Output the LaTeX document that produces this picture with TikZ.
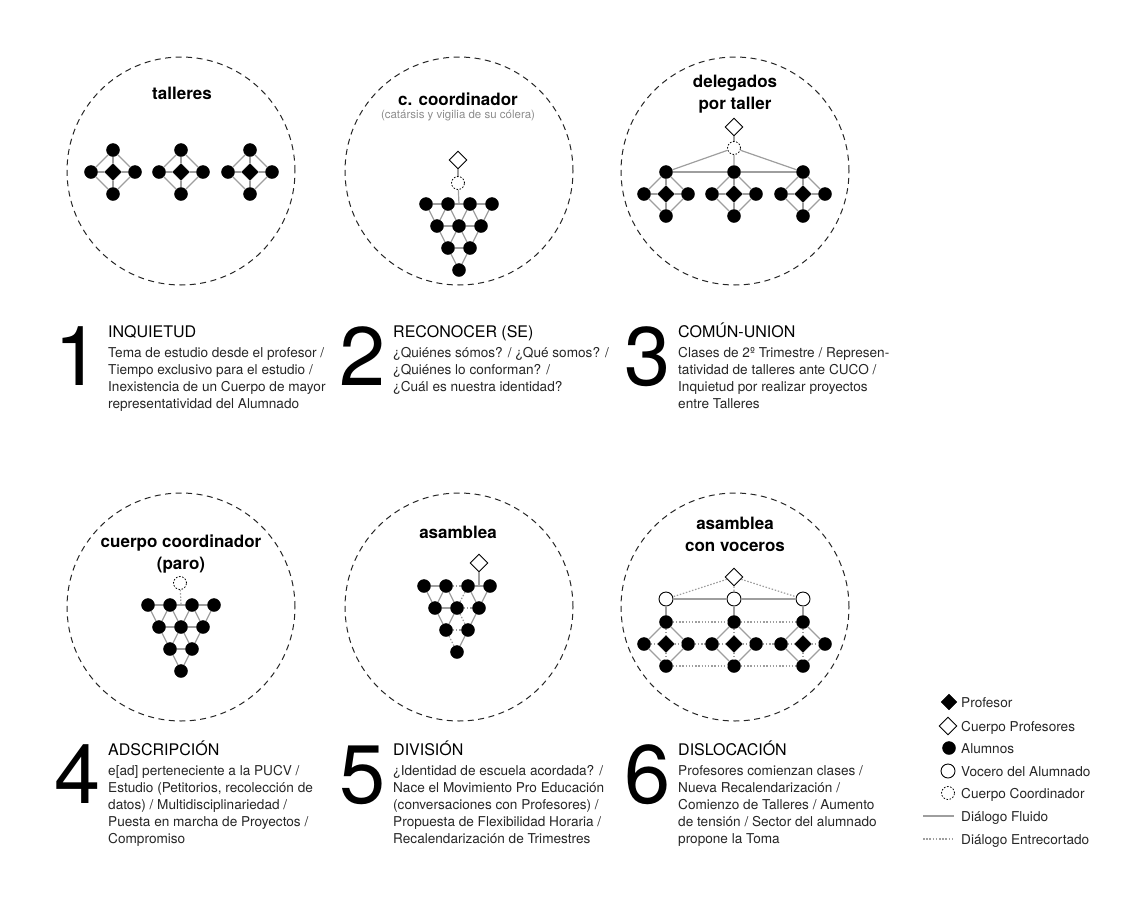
\documentclass[tikz,border=0pt]{standalone}
\usepackage{fontspec}
\setmainfont{TeX Gyre Heros}
\usetikzlibrary{shapes.geometric}

% one workshop: a teacher (diamond) with four students around it
\newcommand\taller[4]{%
  \node[prof] (#1c) at (#2,#3) {};
  \node[alum] (#1t) at (#2,#3-22) {};
  \node[alum] (#1b) at (#2,#3+22) {};
  \node[alum] (#1l) at (#2-22,#3) {};
  \node[alum] (#1r) at (#2+22,#3) {};
  \draw[fl] (#1t) -- (#1l) -- (#1b) -- (#1r) -- (#1t);
  \draw[#4] (#1t) -- (#1c) -- (#1b) (#1l) -- (#1c) -- (#1r);
}
% inverted triangle of ten students: rows a (4), b (3), c (2), d (1)
\newcommand\triangulo[3]{%
  \foreach \i/\dx in {1/-33,2/-11,3/11,4/33} \node[alum] (#1a\i) at (#2+\dx,#3) {};
  \foreach \i/\dx in {1/-22,2/0,3/22} \node[alum] (#1b\i) at (#2+\dx,#3+22) {};
  \foreach \i/\dx in {1/-11,2/11} \node[alum] (#1c\i) at (#2+\dx,#3+44) {};
  \node[alum] (#1d) at (#2,#3+66) {};
  \coordinate (#1m) at (#2,#3);
}

\begin{document}
\begin{tikzpicture}[x=1pt,y=-1pt,
  ring/.style={draw=black!85, line width=1pt, dash pattern=on 6pt off 4.5pt},
  alum/.style={circle, fill=black, draw=black, inner sep=0pt, minimum size=13pt},
  prof/.style={diamond, fill=black, draw=black, inner sep=0pt, minimum size=17pt},
  cprof/.style={diamond, fill=white, draw=black, line width=0.9pt, inner sep=0pt, minimum size=18pt},
  ccoord/.style={circle, draw=black, line width=0.8pt, dash pattern=on 1.6pt off 1.6pt, inner sep=0pt, minimum size=13pt},
  voc/.style={circle, draw=black, fill=white, line width=0.9pt, inner sep=0pt, minimum size=14pt},
  fl/.style={draw=black!38, line width=1.2pt},
  ent/.style={draw=black!38, line width=1.2pt, dash pattern=on 1.5pt off 1.7pt},
  ctitle/.style={font=\fontsize{17}{22}\selectfont\bfseries, align=center, inner sep=0pt},
  csub/.style={font=\fontsize{11.5}{13}\selectfont, text=black!45, inner sep=0pt},
  num/.style={font=\fontsize{83}{83}\selectfont, anchor=base west, inner sep=0pt},
  ttl/.style={font=\fontsize{16}{18}\selectfont, anchor=base west, inner sep=0pt},
  body/.style={font=\fontsize{13.6}{17.2}\selectfont, text=black!85, align=left, anchor=base west, inner sep=0pt},
  leg/.style={font=\fontsize{13.6}{16}\selectfont, text=black!85, anchor=base west, inner sep=0pt}
]
\useasboundingbox (0,0) rectangle (1132,900);

% ---------- dashed rings ----------
\foreach \cx/\cy in {181/171,459/171,735/171,181/607,459/607,735/607}
  \draw[ring] (\cx,\cy) circle[radius=114pt];

% ---------- 1: talleres ----------
\node[ctitle] (h1) at (182,93) {talleres};
\taller{A}{113}{172}{fl}
\taller{B}{181}{172}{fl}
\taller{C}{250}{172}{fl}

% ---------- 2: c. coordinador ----------
\node[ctitle] (h2) at (458,99) {c. coordinador};
\node[csub] (h2s) at (458,116) {(catársis y vigilia de su cólera)};
\triangulo{T}{459}{204}
\foreach \p/\q in {a1/a2,a2/a3,a3/a4,b1/b2,b2/b3,c1/c2,a1/b1,a2/b1,a2/b2,a3/b2,a3/b3,a4/b3,b1/c1,b2/c1,b2/c2,b3/c2,c1/d,c2/d}
  \draw[fl] (T\p) -- (T\q);
\node[cprof] (cp2) at (458,160) {};
\node[ccoord] (cc2) at (458,183) {};
\draw[fl] (cp2) -- (cc2);
\draw[fl] (cc2) -- (Tm);

% ---------- 3: delegados por taller ----------
\node[ctitle] (h3) at (735,94) {delegados\\por taller};
\taller{D}{666}{194}{fl}
\taller{E}{734}{194}{fl}
\taller{F}{803}{194}{fl}
\node[cprof] (cp3) at (734,127) {};
\node[ccoord] (cc3) at (734,148) {};
\draw[fl] (cp3) -- (cc3);
\draw[fl] (cc3) -- (Dt) (cc3) -- (Et) (cc3) -- (Ft);
\draw[fl] (Dt) -- (Et) -- (Ft);

% ---------- 4: cuerpo coordinador (paro) ----------
\node[ctitle] (h4) at (181,554) {cuerpo coordinador\\(paro)};
\triangulo{U}{181}{605}
\foreach \p/\q in {a1/a2,a2/a3,a3/a4,b1/b2,b2/b3,c1/c2,a1/b1,a2/b1,a2/b2,a3/b2,a3/b3,a4/b3,b1/c1,b2/c1,b2/c2,b3/c2,c1/d,c2/d}
  \draw[fl] (U\p) -- (U\q);
\node[ccoord] (cc4) at (180,583) {};
\draw[ent] (cc4) -- (Um);

% ---------- 5: asamblea ----------
\node[ctitle] (h5) at (458,532) {asamblea};
\triangulo{V}{457}{586}
\foreach \p/\q in {a1/a2,a3/a4,a1/b1,a2/b1,a2/b2,a3/b3,a4/b3,b1/b2,b1/c1,b2/c1,b3/c2,c2/d}
  \draw[fl] (V\p) -- (V\q);
\foreach \p/\q in {a2/a3,a3/b2,b2/b3,b2/c2,c1/c2,c1/d}
  \draw[ent] (V\p) -- (V\q);
\node[cprof] (cp5) at (479,563) {};
\coordinate (v5) at (479,586);
\draw[fl] (cp5) -- (v5);

% ---------- 6: asamblea con voceros ----------
\node[ctitle] (h6) at (735,534) {asamblea\\con voceros};
\taller{G}{666}{644}{ent}
\taller{H}{734}{644}{ent}
\taller{K}{803}{644}{ent}
\draw[ent] (Gt) -- (Ht) -- (Kt);
\draw[ent] (Gb) -- (Hb) -- (Kb);
\draw[ent] (Gr) -- (Hl) (Hr) -- (Kl);
\node[cprof] (cp6) at (734,577) {};
\node[voc] (o1) at (666,599) {};
\node[voc] (o2) at (734,599) {};
\node[voc] (o3) at (803,599) {};
\draw[fl] (o1) -- (o2) -- (o3);
\draw[fl] (o1) -- (Gt) (o2) -- (Ht) (o3) -- (Kt);
\draw[ent] (cp6) -- (o1) (cp6) -- (o2) (cp6) -- (o3);

% ---------- captions (body anchored at the baseline of its last line) ----------
\node[num] (n1) at (54,385) {1};
\node[ttl] (t1) at (108,337) {INQUIETUD};
\node[body] (b1) at (108,408.6) {Tema de estudio desde el profesor /\\Tiempo exclusivo para el estudio /\\Inexistencia de un Cuerpo de mayor\\representatividad del Alumnado};

\node[num] (n2) at (339,385) {2};
\node[ttl] (t2) at (393,337) {RECONOCER (SE)};
\node[body] (b2) at (393,391.4) {¿Quiénes sómos? / ¿Qué somos? /\\¿Quiénes lo conforman? /\\¿Cuál es nuestra identidad?};

\node[num] (n3) at (624,385) {3};
\node[ttl] (t3) at (678,337) {COMÚN-UNION};
\node[body] (b3) at (678,408.6) {Clases de 2º Trimestre / Represen-\\tatividad de talleres ante CUCO /\\Inquietud por realizar proyectos\\entre Talleres};

\node[num] (n4) at (54,803) {4};
\node[ttl] (t4) at (108,755) {ADSCRIPCIÓN};
\node[body] (b4) at (108,843.8) {e[ad] perteneciente a la PUCV /\\Estudio (Petitorios, recolección de\\datos) / Multidisciplinariedad /\\Puesta en marcha de Proyectos /\\Compromiso};

\node[num] (n5) at (339,803) {5};
\node[ttl] (t5) at (393,755) {DIVISIÓN};
\node[body] (b5) at (393,843.8) {¿Identidad de escuela acordada? /\\Nace el Movimiento Pro Educación\\(conversaciones con Profesores) /\\Propuesta de Flexibilidad Horaria /\\Recalendarización de Trimestres};

\node[num] (n6) at (624,803) {6};
\node[ttl] (t6) at (678,755) {DISLOCACIÓN};
\node[body] (b6) at (678,843.8) {Profesores comienzan clases /\\Nueva Recalendarización /\\Comienzo de Talleres / Aumento\\de tensión / Sector del alumnado\\propone la Toma};

% ---------- legend ----------
\node[prof, minimum size=16pt] (l1) at (949,702) {};
\node[leg] (l1t) at (961,707) {Profesor};
\node[cprof] (l2) at (948,726) {};
\node[leg] (l2t) at (961,731) {Cuerpo Profesores};
\node[alum] (l3) at (949,748) {};
\node[leg] (l3t) at (961,753) {Alumnos};
\node[voc] (l4) at (948,771) {};
\node[leg] (l4t) at (961,776) {Vocero del Alumnado};
\node[ccoord] (l5) at (948,793) {};
\node[leg] (l5t) at (961,798) {Cuerpo Coordinador};
\coordinate (l6a) at (923,816);
\coordinate (l6b) at (954,816);
\draw[fl, line width=1.8pt] (l6a) -- (l6b);
\node[leg] (l6t) at (961,821) {Diálogo Fluido};
\coordinate (l7a) at (923,839);
\coordinate (l7b) at (954,839);
\draw[ent] (l7a) -- (l7b);
\node[leg] (l7t) at (961,844) {Diálogo Entrecortado};
\end{tikzpicture}
\end{document}
